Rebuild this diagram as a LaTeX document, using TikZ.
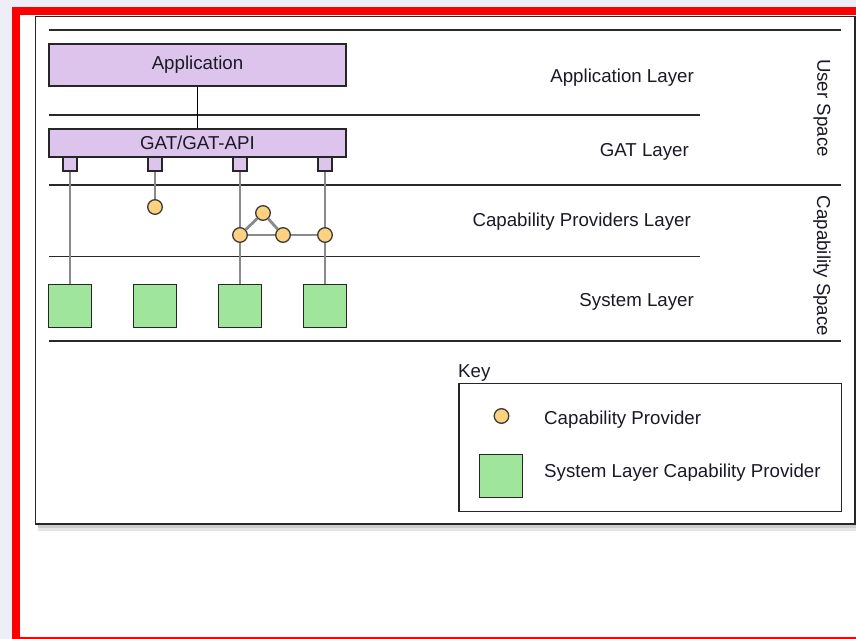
\documentclass[tikz,border=0pt]{standalone}
\usepackage{fontspec}
\setmainfont{Liberation Sans}
\definecolor{bgout}{HTML}{EEEFF6}
\definecolor{framered}{HTML}{FF0000}
\definecolor{edge}{HTML}{262626}
\definecolor{sepline}{HTML}{2A2A2A}
\definecolor{lav}{HTML}{DCC4EC}
\definecolor{grn}{HTML}{9FE69C}
\definecolor{capfill}{HTML}{FDD17F}
\definecolor{capedge}{HTML}{3A3A3A}
\definecolor{wiregray}{HTML}{8A8A8A}
\definecolor{txt}{HTML}{1A1A26}
\begin{document}
\begin{tikzpicture}[x=1pt,y=-1pt,
  every node/.style={font=\fontsize{18.7}{22}\selectfont, text=txt, inner sep=0pt},
  layerbox/.style={draw=edge, line width=1.5pt, fill=lav, minimum width=297pt},
  portbox/.style={draw=edge, line width=1.4pt, fill=lav, minimum size=14pt},
  sysbox/.style={draw=edge, line width=1.4pt, fill=grn, minimum size=43pt},
  capnode/.style={circle, draw=capedge, line width=1.3pt, fill=capfill, minimum size=14.6pt},
  wire/.style={draw=wiregray, line width=2.8pt},
  sepline/.style={draw=sepline, line width=1.8pt},
  layername/.style={anchor=base east},
  keytext/.style={anchor=base west}]
\useasboundingbox (0,0) rectangle (856,639);

% page surround and red frame
\fill[bgout] (0,0) rectangle (856,639);
\fill[framered] (12,7) rectangle (856,639);
\fill[white] (20,15) rectangle (856,636.5);

% outer panel with soft drop shadow
\fill[black,opacity=0.10] (38,524) rectangle (856,531);
\fill[black,opacity=0.10] (38,524) rectangle (856,527.5);
\draw[draw=edge, line width=1.8pt, fill=white] (35.5,16.5) rectangle (855,524);

% layer separators
\draw[sepline] (49,30) -- (841,30);
\draw[sepline] (49,115) -- (700,115);
\draw[sepline] (49,185) -- (841,185);
\draw[sepline] (49,256.5) -- (700,256.5);
\draw[sepline] (49,341) -- (841,341);

% application and GAT layers
\node[layerbox, minimum height=42pt] (app) at (197.5,65) {Application};
\node[layerbox, minimum height=28pt] (gat) at (197.5,143) {GAT/GAT-API};
\draw[black, line width=1.6pt] (app) -- (gat);

% GAT ports
\node[portbox] (p1) at (70,164) {};
\node[portbox] (p2) at (155,164) {};
\node[portbox] (p3) at (240,164) {};
\node[portbox] (p4) at (325,164) {};

% system layer capability providers
\node[sysbox] (s1) at (70,306) {};
\node[sysbox] (s2) at (155,306) {};
\node[sysbox] (s3) at (240,306) {};
\node[sysbox] (s4) at (325,306) {};

% capability providers
\node[capnode] (c2) at (155,207) {};
\node[capnode] (c3) at (240,235) {};
\node[capnode] (c4) at (263,213) {};
\node[capnode] (c5) at (283,235) {};
\node[capnode] (c6) at (325,235) {};

% wiring
\draw[wire] (p1) -- (s1);
\draw[wire] (p2) -- (c2);
\draw[wire] (p3) -- (c3);
\draw[wire] (c3) -- (s3);
\draw[wire] (p4) -- (c6);
\draw[wire] (c6) -- (s4);
\draw[wire] (c3) -- (c4);
\draw[wire] (c4) -- (c5);
\draw[wire] (c3) -- (c5);
\draw[wire] (c5) -- (c6);

% layer names
\node[layername] (lapp) at (694,82.5) {Application Layer};
\node[layername] (lgat) at (689,157) {GAT Layer};
\node[layername] (lcap) at (691,226.5) {Capability Providers Layer};
\node[layername] (lsys) at (694,306.5) {System Layer};

% spaces
\node[rotate=-90] (userspace) at (822,108) {User Space};
\node[rotate=-90] (capspace) at (822,266) {Capability Space};

% key
\node[keytext] (keytitle) at (458,377) {Key};
\draw[draw=edge, line width=1.6pt] (459,383.5) rectangle (841.5,511.5);
\node[capnode] (kcap) at (501.5,416) {};
\node[keytext] (kcaptext) at (544,424) {Capability Provider};
\node[sysbox] (ksys) at (501,476) {};
\node[keytext] (ksystext) at (544,477.5) {System Layer Capability Provider};
\end{tikzpicture}
\end{document}
